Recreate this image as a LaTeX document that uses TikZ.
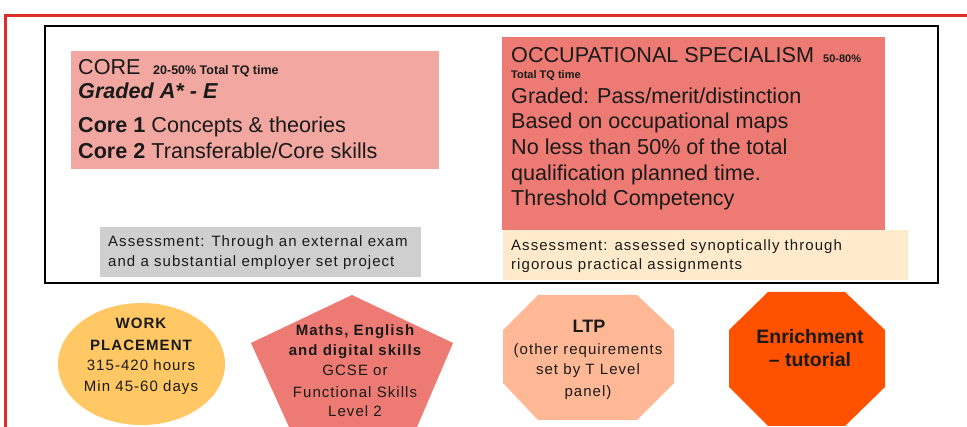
\documentclass[tikz,border=0pt]{standalone}
\usepackage{fontspec}
\setmainfont{Liberation Sans}
\newfontfamily\spaced[LetterSpace=7]{Liberation Sans}
\definecolor{frameRed}{HTML}{DC2E26}
\definecolor{coreFill}{HTML}{F2A7A0}
\definecolor{occFill}{HTML}{EE7B73}
\definecolor{grayFill}{HTML}{CFCFCF}
\definecolor{beigeFill}{HTML}{FFEBCB}
\definecolor{wpFill}{HTML}{FFC864}
\definecolor{ltpFill}{HTML}{FFB895}
\definecolor{enrFill}{HTML}{FF5200}
\definecolor{txt}{HTML}{1A1A1A}
\begin{document}
\begin{tikzpicture}[x=1pt,y=-1pt,
  lt/.style={inner sep=0pt, anchor=base west, text=txt},
  ct/.style={inner sep=0pt, anchor=base, text=txt},
  bigf/.style={font=\fontsize{21.6}{25}\selectfont},
  tinyf/.style={font=\bfseries\fontsize{12.5}{14}\selectfont},
  smallf/.style={font=\spaced\fontsize{15}{18}\selectfont},
  smallbf/.style={font=\spaced\bfseries\fontsize{15}{18}\selectfont}]
\useasboundingbox (0,0) rectangle (967,427);
\fill[white] (0,0) rectangle (967,427);
% red frame
\draw[frameRed, line width=3pt] (5.5,427) -- (5.5,16) -- (967,16);
% black box
\draw[black, line width=2.6pt] (45,26) rectangle (938,283);
% core box
\fill[coreFill] (71,51) rectangle (439,169);
\node[lt,bigf] (coreT) at (78,75) {CORE};
\node[lt,tinyf] (coreP) at (153,75) {20-50\% Total TQ time};
\node[lt,bigf,font=\bfseries\itshape\fontsize{21.6}{25}\selectfont] (coreG) at (78,99) {Graded A* - E};
\node[lt,bigf] (core1) at (78,133) {\textbf{Core 1} Concepts \& theories};
\node[lt,bigf] (core2) at (78,159) {\textbf{Core 2} Transferable/Core skills};
% gray assessment
\fill[grayFill] (100,227) rectangle (421,277);
\node[lt,smallf] (ga1) at (108,247) {Assessment: Through an external exam};
\node[lt,smallf] (ga2) at (108,267) {and a substantial employer set project};
% occupational box
\fill[occFill] (502,37) rectangle (885,230);
\node[lt,bigf] (occT) at (511,63) {OCCUPATIONAL SPECIALISM};
\node[lt,font=\bfseries\fontsize{11}{13}\selectfont] (occP) at (823,63) {50-80\%};
\node[lt,font=\bfseries\fontsize{11}{13}\selectfont] (occP2) at (511,79) {Total TQ time};
\node[lt,bigf] (occ1) at (511,104) {Graded: Pass/merit/distinction};
\node[lt,bigf] (occ2) at (511,129) {Based on occupational maps};
\node[lt,bigf] (occ3) at (511,155) {No less than 50\% of the total};
\node[lt,bigf] (occ4) at (511,181) {qualification planned time.};
\node[lt,bigf] (occ5) at (511,206) {Threshold Competency};
% beige assessment
\fill[beigeFill] (503,230) rectangle (908,280);
\node[lt,smallf] (ba1) at (511,251) {Assessment: assessed synoptically through};
\node[lt,smallf] (ba2) at (511,270) {rigorous practical assignments};
% work placement ellipse
\fill[wpFill] (141.5,364) ellipse [x radius=83.5, y radius=61];
\node[ct,smallbf] (wp1) at (141,329) {WORK};
\node[ct,smallbf] (wp2) at (141,351) {PLACEMENT};
\node[ct,smallf] (wp3) at (141,371) {315-420 hours};
\node[ct,smallf] (wp4) at (141,392) {Min 45-60 days};
% pentagon
\fill[occFill] (352,295) -- (453,343) -- (417,427) -- (289,427) -- (251,343) -- cycle;
\node[ct,smallbf] (pm1) at (355,336) {Maths, English};
\node[ct,smallbf] (pm2) at (355,356) {and digital skills};
\node[ct,smallf] (pm3) at (355,376) {GCSE or};
\node[ct,smallf] (pm4) at (355,398) {Functional Skills};
\node[ct,smallf] (pm5) at (355,417) {Level 2};
% LTP octagon
\fill[ltpFill] (538,295) -- (637,295) -- (674,330) -- (674,383) -- (637,420) -- (538,420) -- (503,383) -- (503,330) -- cycle;
\node[ct,font=\bfseries\fontsize{18}{21}\selectfont] (ltp1) at (589,333) {LTP};
\node[ct,smallf] (ltp2) at (588,355) {(other requirements};
\node[ct,smallf] (ltp3) at (588,375) {set by T Level};
\node[ct,smallf] (ltp4) at (588,397) {panel)};
% enrichment octagon
\fill[enrFill] (768,292) -- (845,292) -- (885,330) -- (885,387) -- (845,426) -- (768,426) -- (729,387) -- (729,330) -- cycle;
\node[ct,font=\bfseries\fontsize{19.5}{23}\selectfont] (en1) at (810,344) {Enrichment};
\node[ct,font=\bfseries\fontsize{19.5}{23}\selectfont] (en2) at (810,367) {-- tutorial};
\end{tikzpicture}
\end{document}
